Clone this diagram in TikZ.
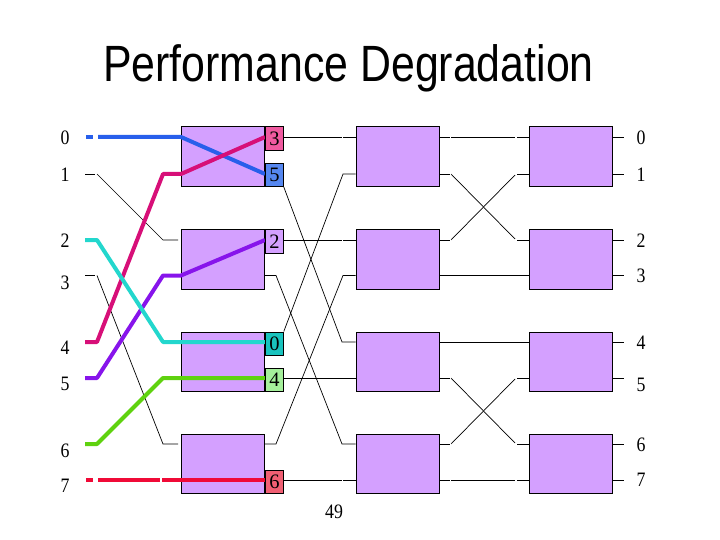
\documentclass[tikz,border=0pt]{standalone}
\usepackage{fontspec}
\setmainfont{Liberation Serif}
\newfontfamily\titlefont{Liberation Sans}
\definecolor{boxfill}{RGB}{212,160,255}
\definecolor{cblue}{RGB}{40,95,235}
\definecolor{cmag}{RGB}{215,15,120}
\definecolor{ccyan}{RGB}{35,215,205}
\definecolor{cpurp}{RGB}{135,20,235}
\definecolor{cgreen}{RGB}{95,210,15}
\definecolor{cred}{RGB}{240,10,55}
\definecolor{fpink}{RGB}{240,90,160}
\definecolor{fblue}{RGB}{85,135,240}
\definecolor{fteal}{RGB}{25,195,190}
\definecolor{fgreen}{RGB}{165,240,155}
\definecolor{fred}{RGB}{240,95,115}
\begin{document}
\begin{tikzpicture}[x=1pt,y=-1pt,
  sw/.style={draw=black,line width=1pt,fill=boxfill,minimum width=83pt,minimum height=59.5pt,inner sep=0pt,anchor=north west},
  port/.style={draw=black,line width=0.8pt,minimum width=18pt,minimum height=23.5pt,inner sep=0pt,font=\fontsize{20.5}{20.5}\selectfont},
  wire/.style={line width=0.7pt,black},
  fat/.style={line width=4pt,line join=round},
  lbl/.style={font=\fontsize{20.5}{20.5}\selectfont,inner sep=0pt,xscale=0.87}]
\useasboundingbox (0,0) rectangle (720,540);
% rows
\coordinate (r0) at (0,137);
\coordinate (r1) at (0,174);
\coordinate (r2) at (0,240);
\coordinate (r3) at (0,275.5);
\coordinate (r4) at (0,342);
\coordinate (r5) at (0,378);
\coordinate (r6) at (0,444);
\coordinate (r7) at (0,480);
\foreach \i/\y in {0/137,1/174,2/240,3/275.5,4/342,5/378,6/444,7/480}
  \coordinate (in\i) at (85,\y);
% title
\node[font=\titlefont\fontsize{51}{51}\selectfont,xscale=0.84,anchor=base,inner sep=0pt] (title) at (348.5,82) {Performance Degradation};
% boxes
\foreach \c/\x in {1/181,2/355.5,3/529}{
  \node[sw] (c\c b1) at (\x,126.5) {};
  \node[sw] (c\c b2) at (\x,229.5) {};
  \node[sw] (c\c b3) at (\x,331.5) {};
  \node[sw] (c\c b4) at (\x,433.5) {};
}
% input wires (thin)
\draw[wire] (in1) -- ++(10,0);
\draw[wire] (97,174) -- (163,240) -- ++(15,0);
\draw[wire] (in3) -- ++(10,0);
\draw[wire] (97,275.5) -- (163,444) -- ++(15,0);
% ports placed (needed for anchors)
\node[port,fill=fpink,anchor=north west] (pt3) at (c1b1.north east) {3};
\node[port,fill=fblue,anchor=south west] (pt5) at (c1b1.south east) {5};
\node[port,fill=boxfill,anchor=north west] (pt2) at (c1b2.north east) {2};
\node[port,fill=fteal,anchor=north west] (pt0) at (c1b3.north east) {0};
\node[port,fill=fgreen,anchor=south west] (pt4) at (c1b3.south east) {4};
\node[port,fill=fred,anchor=south west] (pt6) at (c1b4.south east) {6};
% stage 1 -> stage 2
\draw[wire] (pt3.east |- r0) -- ++(58,0);
\draw[wire] (c2b1.west |- r0) -- ++(-13,0);
\draw[wire] (pt5.south east) -- (342,342) -- (c2b3.west |- r4);
\draw[wire] (pt2.east |- r2) -- ++(58,0);
\draw[wire] (c2b2.west |- r2) -- ++(-13,0);
\draw[wire] (c1b2.east |- r3) -- ++(11,0) -- (342,444) -- (c2b4.west |- r6);
\draw[wire] (pt0.north east) -- (343,174) -- (c2b1.west |- r1);
\draw[wire] (pt4.east |- r5) -- (c2b3.west |- r5);
\draw[wire] (c1b4.east |- r6) -- ++(11,0) -- (343,275.5) -- (c2b2.west |- r3);
\draw[wire] (pt6.east |- r7) -- ++(58,0);
\draw[wire] (c2b4.west |- r7) -- ++(-13,0);
% stage 2 -> stage 3
\draw[wire] (c2b1.east |- r0) -- ++(10,0);
\draw[wire] (451,137) -- (515,137);
\draw[wire] (c3b1.west |- r0) -- ++(-12,0);
\draw[wire] (c2b1.east |- r1) -- ++(10,0);
\draw[wire] (451,174) -- (515,239);
\draw[wire] (c3b2.west |- r2) -- ++(-12,0);
\draw[wire] (c2b2.east |- r2) -- ++(10,0);
\draw[wire] (451,240) -- (515,175);
\draw[wire] (c3b1.west |- r1) -- ++(-12,0);
\draw[wire] (c2b2.east |- r3) -- (c3b2.west |- r3);
\draw[wire] (c2b3.east |- r4) -- ++(77,0);
\draw[wire] (c3b3.west |- r4) -- ++(-12,0);
\draw[wire] (c2b3.east |- r5) -- ++(10,0);
\draw[wire] (451,378) -- (515,443);
\draw[wire] (c3b4.west |- r6) -- ++(-12,0);
\draw[wire] (c2b4.east |- r6) -- ++(10,0);
\draw[wire] (451,444) -- (515,379);
\draw[wire] (c3b3.west |- r5) -- ++(-12,0);
\draw[wire] (c2b4.east |- r7) -- ++(10,0);
\draw[wire] (451,480) -- (515,480);
\draw[wire] (c3b4.west |- r7) -- ++(-12,0);
% outputs
\draw[wire] (c3b1.east |- r0) -- ++(11,0);
\draw[wire] (c3b1.east |- r1) -- ++(11,0);
\draw[wire] (c3b2.east |- r2) -- ++(11,0);
\draw[wire] (c3b2.east |- r3) -- ++(11,0);
\draw[wire] (c3b3.east |- r4) -- ++(11,0);
\draw[wire] (c3b3.east |- r5) -- ++(11,0);
\draw[wire] (c3b4.east |- r6) -- ++(11,0);
\draw[wire] (c3b4.east |- r7) -- ++(11,0);
% coloured paths
\draw[fat,cblue] (86,137) -- (93,137);
\draw[fat,cblue] (98,137) -- (c1b1.west |- r0) -- (pt5.west |- r1);
\draw[fat,cmag] (in4) -- ++(12,0) -- (163,174) -- (c1b1.west |- r1) -- (pt3.west |- r0);
\draw[fat,cpurp] (in5) -- ++(12,0) -- (163,275.5) -- (c1b2.west |- r3) -- (pt2.west |- r2);
\draw[fat,ccyan] (in2) -- ++(12,0) -- (163,342) -- (pt0.west |- r4);
\draw[fat,cgreen] (in6) -- ++(12,0) -- (163,378) -- (pt4.west |- r5);
\draw[fat,cred] (86,480) -- (93,480);
\draw[fat,cred] (98,480) -- (160,480);
\draw[fat,cred] (162,480) -- (pt6.west |- r7);
% redraw ports on top
\node[port,fill=fpink,anchor=north west] at (c1b1.north east) {3};
\node[port,fill=fblue,anchor=south west] at (c1b1.south east) {5};
\node[port,fill=boxfill,anchor=north west] at (c1b2.north east) {2};
\node[port,fill=fteal,anchor=north west] at (c1b3.north east) {0};
\node[port,fill=fgreen,anchor=south west] at (c1b3.south east) {4};
\node[port,fill=fred,anchor=south west] at (c1b4.south east) {6};
% labels
\foreach \t/\y in {0/138,1/175,2/241,3/283,4/348,5/384,6/451,7/486}
  \node[lbl] (l\t) at (65,\y) {\t};
\foreach \t/\y in {0/138,1/175,2/241,3/276,4/343,5/385,6/445,7/480}
  \node[lbl] (rt\t) at (641,\y) {\t};
\node[lbl] (pg) at (334,512) {49};
\end{tikzpicture}
\end{document}
